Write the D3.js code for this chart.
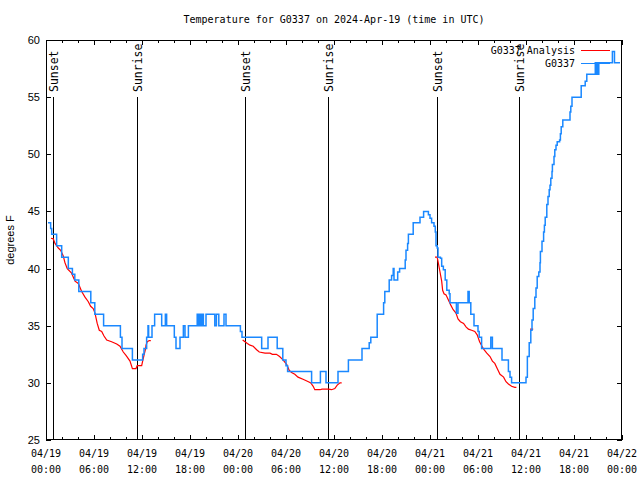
<!DOCTYPE html>
<html><head><meta charset="utf-8">
<script src="https://cdn.jsdelivr.net/npm/d3@7"></script>
<style>body{margin:0;background:#fff}</style>
</head><body><svg id="c" width="640" height="480"></svg>
<script>
// ---------- data ----------
const chartTitle = "Temperature for G0337 on 2024-Apr-19 (time in UTC)";
const yAxisLabel = "degrees F";
const seriesNames = ["G0337 Analysis", "G0337"];
const startUTC = Date.UTC(2024, 3, 19, 0, 0);
const xDomainHours = [0, 72];
const yDomain = [25, 60];
const yTickValues = [25, 30, 35, 40, 45, 50, 55, 60];
const xMajorHours = [0, 6, 12, 18, 24, 30, 36, 42, 48, 54, 60, 66, 72];
const xMinorHours = d3.range(0, 73, 2);
// hours after start, label
const sunEvents = [[0.9, "Sunset"], [11.4, "Sunrise"], [24.9, "Sunset"], [35.3, "Sunrise"], [48.9, "Sunset"], [59.17, "Sunrise"]];

// observed G0337 (hour, degF), step values
const observed = [
[0.25,44],[0.58,43.5],[0.71,43],[1.33,42],[1.96,41],[2.79,40],[3.3,39.5],[3.6,39],[4.1,38],[5.6,37],[6.1,36],[7.2,35],
[9.3,34],[9.5,33],[10.8,32],[12.08,32.5],[12.25,33],[12.58,34],[12.75,35],[12.83,34],[13.25,35],[13.58,36],[14.46,35],
[14.92,36],[15.08,35],[16.04,34],[16.25,33],[16.75,34],[17.17,35],[17.375,34],[17.8,35],[18.9,36],[19.08,35],[19.25,36],
[19.375,35],[19.5,36],[19.67,35],[20.0,36],[21.1,35],[21.3,36],[21.6,35],[22.25,36],[22.5,35],[24.3,34.5],[24.5,34],
[26.96,33],[27.75,34],[28.9,33],[29.6,32],[30.0,31.5],[30.2,31],[33.2,30],[34.3,31],[35.0,30],[36.5,31],[37.8,32],
[39.5,33],[40.4,33.5],[40.6,34],[41.4,36],[42.2,37],[42.35,38],[42.9,39],[43.2,39.4],[43.4,40],[43.5,39],[43.96,39.7],
[44.2,40],[44.9,40.75],[45.0,41.6],[45.2,42.2],[45.3,43],[45.9,44],[46.75,44.5],[47.2,45],[47.8,44.7],[48.0,44.4],
[48.2,44],[48.5,43.7],[48.66,43.2],[48.75,42],[48.9,41.8],[49.0,41],[49.3,40.9],[49.46,40.2],[49.67,39.9],[49.9,39],
[50.1,38.1],[50.4,37.8],[50.5,37],[51.3,36.1],[51.5,37],[52.75,38],[52.9,37],[53.1,36],[53.5,35],[54.0,34.5],[54.15,34],
[54.45,33],[55.6,34],[55.8,33],[57.0,32],[57.8,31],[58.0,30.5],[58.2,30],[60.0,30.5],[60.17,32.3],[60.4,33.5],[60.6,34.6],
[60.75,35.5],[60.9,36.5],[61.1,37.5],[61.25,38.3],[61.4,39.3],[61.6,39.7],[61.75,40.5],[61.8,41.5],[62.0,42.4],[62.2,43.2],
[62.3,43.8],[62.4,44.5],[62.6,45.6],[62.75,46.3],[62.9,46.9],[63.0,47.3],[63.1,47.9],[63.25,48.5],[63.3,49.1],[63.5,49.8],
[63.6,50.4],[63.75,50.8],[63.9,51.1],[64.2,51.25],[64.3,51.8],[64.4,52.4],[64.6,53],[65.5,53.7],[65.6,54.2],[65.75,55],
[66.9,56],[67.4,56.4],[67.6,57],[68.66,58],[68.8,57],[68.9,58],[69.0,57],[69.1,58],[70.8,59],[71.06,58],[71.75,58]
];

// analysis (hour, degF), separate night segments
const analysisNight1 = [
[0.625,42.65],[0.91,42.6],[1.125,42.2],[1.54,41.8],[1.83,41.6],[2.16,41.1],[2.375,40.5],[2.66,40],[3.2,39.6],[3.625,38.9],
[4.04,38.7],[4.46,38],[4.875,37.5],[5.29,37.1],[5.58,36.7],[5.9,36.5],[6.125,36.1],[6.4,35.2],[6.66,34.6],[6.96,34.5],
[7.25,34.1],[7.59,33.75],[8.2,33.6],[8.84,33.4],[9.25,33.2],[9.66,32.7],[10.0,32.4],[10.5,31.9],[10.8,31.25],[11.25,31.25],
[11.4,31.5],[11.96,31.5],[12.08,31.9],[12.25,32.4],[12.45,33.0],[12.5,33.3],[12.66,33.6],[12.9,33.7],[13.1,33.7]
];
const analysisNight2 = [
[24.58,33.75],[24.875,33.6],[25.17,33.45],[25.5,33.3],[25.9,33.2],[26.33,32.9],[26.66,32.7],[27.375,32.6],[28,32.6],
[28.3,32.5],[28.8,32.5],[29.2,32.3],[29.5,32.1],[29.75,31.9],[30.1,31.6],[30.4,31.1],[30.7,30.9],[31.1,30.75],[31.5,30.5],
[32.2,30.3],[32.8,30.1],[33.1,30],[33.4,29.7],[33.6,29.4],[34.25,29.4],[34.5,29.45],[35.3,29.45],[35.7,29.4],[36.1,29.5],
[36.4,29.8],[36.75,30],[36.96,30]
];
const analysisNight3 = [
[48.625,41],[48.9,41],[49.04,40.5],[49.25,39.7],[49.46,38.9],[49.58,38.1],[49.75,37.8],[50,37.7],[50.3,37.25],[50.6,36.8],
[50.9,36.4],[51.25,36.1],[51.5,35.6],[51.8,35.35],[52.2,35.2],[52.5,34.9],[52.8,34.7],[53.2,34.6],[53.6,34.5],[53.9,34.2],
[54.2,33.6],[54.5,33.2],[54.75,32.9],[55.1,32.6],[55.5,32.3],[55.8,31.9],[56.1,31.7],[56.4,31.25],[56.75,30.75],[57.2,30.5],
[57.5,30.1],[57.8,29.9],[58.2,29.7],[58.6,29.6],[58.8,29.6]
];
const analysisDay3 = [[60.5,34.7],[60.9,34.7]];

// ---------- layout ----------
const W = 640, H = 480;
const m = {left: 46, right: 18, top: 40, bottom: 40};
const colAnalysis = "#ff0000", colObs = "#1a88ff";
const mono = "'DejaVu Sans Mono', monospace";
const sans = "'Liberation Sans', Arial, sans-serif";

const svg = d3.select("#c");
const toDate = h => new Date(startUTC + h * 3600e3);
const x = d3.scaleUtc().domain(xDomainHours.map(toDate)).range([m.left, W - m.right]);
const y = d3.scaleLinear().domain(yDomain).range([H - m.bottom, m.top]);
const x0 = m.left, x1 = W - m.right, y0 = H - m.bottom, y1 = m.top;

// title
svg.append("text").attr("x", (x0 + x1) / 2).attr("y", 23).attr("text-anchor", "middle")
  .style("font-family", mono).style("font-size", "10px").text(chartTitle);

// axes ticks (inward, mirrored)
const major = xMajorHours.map(toDate), minor = xMinorHours.filter(h => !xMajorHours.includes(h)).map(toDate);
function tickGroup(axisFn, scale, vals, size, tx, ty) {
  const g = svg.append("g").attr("transform", `translate(${tx},${ty})`)
    .call(axisFn(scale).tickValues(vals).tickSizeInner(size).tickSizeOuter(0).tickFormat(""));
  g.select(".domain").remove();
  g.selectAll("line").attr("stroke", "#000").attr("shape-rendering", "crispEdges");
  return g;
}
tickGroup(d3.axisBottom, x, major, -5, 0, y0);
tickGroup(d3.axisBottom, x, minor, -3, 0, y0);
tickGroup(d3.axisTop, x, major, -5, 0, y1);
tickGroup(d3.axisTop, x, minor, -3, 0, y1);
tickGroup(d3.axisLeft, y, yTickValues, -5, x0, 0);
tickGroup(d3.axisRight, y, yTickValues, -5, x1, 0);

// x tick labels
const fmtD = d3.utcFormat("%m/%d"), fmtT = d3.utcFormat("%H:%M");
const xl = svg.append("g").style("font-family", mono).style("font-size", "10px").attr("text-anchor", "middle");
major.forEach(d => {
  const t = xl.append("text").attr("x", x(d)).attr("y", 457);
  t.append("tspan").attr("x", x(d)).text(fmtD(d));
  t.append("tspan").attr("x", x(d)).attr("dy", 16).text(fmtT(d));
});
// y tick labels
const yl = svg.append("g").style("font-family", sans).style("font-size", "11px").attr("text-anchor", "end");
yTickValues.forEach(v => yl.append("text").attr("x", 40).attr("y", y(v)).attr("dy", "0.36em").text(v));
// y axis label
svg.append("text").attr("transform", `translate(10,${(y0 + y1) / 2}) rotate(-90)`).attr("text-anchor", "middle")
  .attr("dy", "0.35em").style("font-family", sans).style("font-size", "11px").text(yAxisLabel);

// sun event lines
const sunG = svg.append("g");
sunEvents.forEach(([h, label]) => {
  const xx = Math.round(x(toDate(h))) + 0.5;
  sunG.append("line").attr("x1", xx).attr("x2", xx).attr("y1", 97).attr("y2", y0)
    .attr("stroke", "#000").attr("stroke-width", 1);
  sunG.append("text").attr("transform", `translate(${xx},92) rotate(-90)`).attr("dy", "0.36em")
    .style("font-family", mono).style("font-size", "11.5px").text(label);
});

// series
const lineLin = d3.line().x(d => x(toDate(d[0]))).y(d => y(d[1]));
const lineStep = d3.line().x(d => x(toDate(d[0]))).y(d => y(d[1])).curve(d3.curveStepAfter);
[analysisNight1, analysisNight2, analysisNight3, analysisDay3].forEach(seg => {
  svg.append("path").attr("d", lineLin(seg)).attr("fill", "none").attr("stroke", colAnalysis).attr("stroke-width", 1.2);
});
svg.append("path").attr("d", lineStep(observed)).attr("fill", "none").attr("stroke", colObs)
  .attr("stroke-width", 1.5);

// border
svg.append("rect").attr("x", x0 + 0.5).attr("y", y1 + 0.5).attr("width", x1 - x0 - 1).attr("height", y0 - y1 - 1)
  .attr("fill", "none").attr("stroke", "#000").attr("shape-rendering", "crispEdges");

// legend
const lg = svg.append("g").style("font-family", mono).style("font-size", "10px");
[[seriesNames[0], colAnalysis, 50], [seriesNames[1], colObs, 63]].forEach(([name, col, yy]) => {
  lg.append("text").attr("x", 575).attr("y", yy).attr("dy", "0.35em").attr("text-anchor", "end").text(name);
  lg.append("line").attr("x1", 581).attr("x2", 610).attr("y1", yy + 0.5).attr("y2", yy + 0.5)
    .attr("stroke", col).attr("stroke-width", 1.2).attr("shape-rendering", "crispEdges");
});
</script></body></html>
